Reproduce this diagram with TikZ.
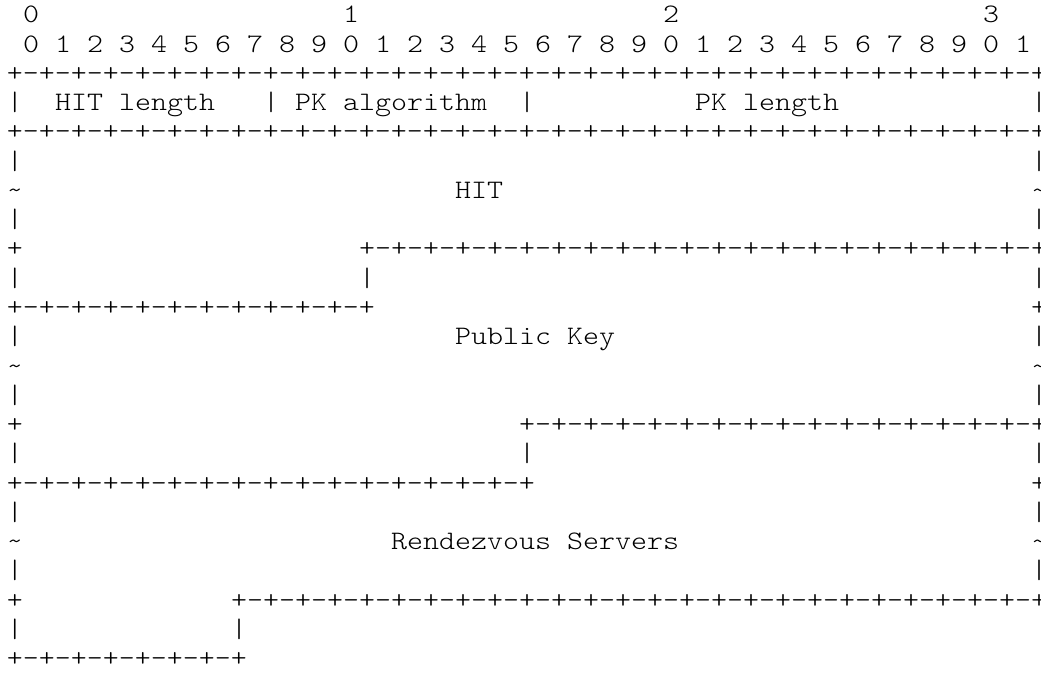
\documentclass[tikz,border=0pt]{standalone}
\usepackage{fontspec}
\newfontfamily\asciifont[FakeStretch=1.142857]{lmmonolt10-regular.otf}
\tikzset{
  ch/.style={font=\asciifont\fontsize{20pt}{20pt}\selectfont, anchor=base west,
             inner sep=0pt, outer sep=0pt, text=black}
}
% \cellat{name}{row}{col}{text}
\newcommand\cellat[4]{\node[ch] (#1) at ({7+16*#3},{23+29.25*#2}) {#4};}
% \runat{name}{row}{col}{pairs}
\newcommand\runat[4]{\node[ch] (#1) at ({7+16*#3},{23+29.25*#2}) {\foreach\k in {1,...,#4}{+-}+};}
\newcommand\tld{\textasciitilde}
\begin{document}
\begin{tikzpicture}[x=0.75pt,y=-0.75pt]
\useasboundingbox (0,0) rectangle (1041,673);
% header
\cellat{h0}{0}{1}{0}
\cellat{h1}{0}{21}{1}
\cellat{h2}{0}{41}{2}
\cellat{h3}{0}{61}{3}
\foreach \b in {0,...,31}{
  \pgfmathtruncatemacro\d{mod(\b,10)}
  \pgfmathtruncatemacro\cc{2*\b+1}
  \cellat{bit\b}{1}{\cc}{\d}
}
% row 2-4
\runat{r2}{2}{0}{32}
\cellat{r3a}{3}{0}{|}
\cellat{r3b}{3}{3}{HIT}
\cellat{r3c}{3}{7}{length}
\cellat{r3d}{3}{16}{|}
\cellat{r3e}{3}{18}{PK}
\cellat{r3f}{3}{21}{algorithm}
\cellat{r3g}{3}{32}{|}
\cellat{r3h}{3}{43}{PK}
\cellat{r3i}{3}{46}{length}
\cellat{r3j}{3}{64}{|}
\runat{r4}{4}{0}{32}
% HIT
\cellat{r5a}{5}{0}{|}
\cellat{r5b}{5}{64}{|}
\cellat{r6a}{6}{0}{\tld}
\cellat{r6b}{6}{28}{HIT}
\cellat{r6c}{6}{64}{\tld}
\cellat{r7a}{7}{0}{|}
\cellat{r7b}{7}{64}{|}
\cellat{r8a}{8}{0}{+}
\runat{r8b}{8}{22}{21}
\cellat{r9a}{9}{0}{|}
\cellat{r9b}{9}{22}{|}
\cellat{r9c}{9}{64}{|}
\runat{r10a}{10}{0}{11}
\cellat{r10b}{10}{64}{+}
% Public Key
\cellat{r11a}{11}{0}{|}
\cellat{r11b}{11}{28}{Public}
\cellat{r11c}{11}{35}{Key}
\cellat{r11d}{11}{64}{|}
\cellat{r12a}{12}{0}{\tld}
\cellat{r12b}{12}{64}{\tld}
\cellat{r13a}{13}{0}{|}
\cellat{r13b}{13}{64}{|}
\cellat{r14a}{14}{0}{+}
\runat{r14b}{14}{32}{16}
\cellat{r15a}{15}{0}{|}
\cellat{r15b}{15}{32}{|}
\cellat{r15c}{15}{64}{|}
\runat{r16a}{16}{0}{16}
\cellat{r16b}{16}{64}{+}
% Rendezvous Servers
\cellat{r17a}{17}{0}{|}
\cellat{r17b}{17}{64}{|}
\cellat{r18a}{18}{0}{\tld}
\cellat{r18b}{18}{24}{Rendezvous}
\cellat{r18c}{18}{35}{Servers}
\cellat{r18d}{18}{64}{\tld}
\cellat{r19a}{19}{0}{|}
\cellat{r19b}{19}{64}{|}
\cellat{r20a}{20}{0}{+}
\runat{r20b}{20}{14}{25}
\cellat{r21a}{21}{0}{|}
\cellat{r21b}{21}{14}{|}
\runat{r22}{22}{0}{7}
\end{tikzpicture}
\end{document}
